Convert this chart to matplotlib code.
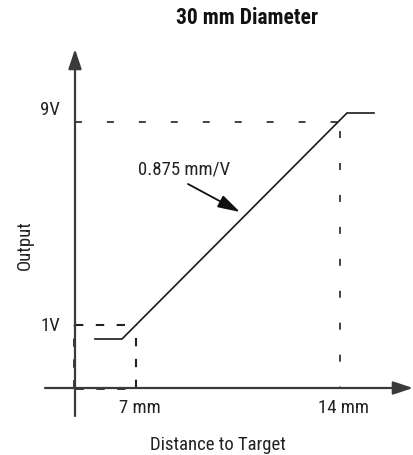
import numpy as np
import matplotlib
matplotlib.use("Agg")
from matplotlib import pyplot as plt

plt.rcParams['lines.scale_dashes'] = False
FONT = ['Roboto Condensed', 'Liberation Sans Narrow', 'Open Sans Condensed', 'DejaVu Sans']
STRETCH = 'condensed'

# schematic values (origin at axes crossing, units are drawing units)
x_ticks = [61, 265]
x_labels = ['7 mm', '14 mm']
y_ticks = [63, 266]
y_labels = ['1V', '9V']
line_x = [20, 47, 272, 299]
line_y = [49, 49, 275, 275]
slope_text = '0.875 mm/V'

fig = plt.figure(figsize=(4.13, 4.56), dpi=100)
ax = fig.add_axes([0, 0, 1, 1])
ax.set_xlim(-75, 338)
ax.set_ylim(-67, 389)
ax.axis('off')

axcol = '#3a3a3a'
head = '-|>,head_width=0.2,head_length=0.6'
# axes with arrows
ax.annotate('', xy=(338, 0), xytext=(-30, 0),
            arrowprops=dict(arrowstyle=head, color=axcol, lw=1.6,
                            mutation_scale=20, shrinkA=0, shrinkB=0))
ax.annotate('', xy=(0, 339), xytext=(0, -28),
            arrowprops=dict(arrowstyle=head, color=axcol, lw=1.6,
                            mutation_scale=20, shrinkA=0, shrinkB=0))

# long dashed guides
long_dash = (0, (5, 18))
ax.plot([0, x_ticks[1]], [y_ticks[1], y_ticks[1]], color='#222', lw=1.2, linestyle=long_dash)
ax.plot([x_ticks[1], x_ticks[1]], [0, y_ticks[1]], color='#222', lw=1.2, linestyle=(4, (5, 18)))

# short dashed box around the 1V / 7 mm point
short_dash = (0, (6, 9))
ax.plot([0, x_ticks[0]], [y_ticks[0], y_ticks[0]], color='#222', lw=1.5, linestyle=short_dash)
ax.plot([x_ticks[0], x_ticks[0]], [0, y_ticks[0]], color='#222', lw=1.5, linestyle=short_dash)
ax.plot([-1, -1], [0, y_ticks[0]], color='#222', lw=2.0, linestyle=short_dash)
ax.plot([0, x_ticks[0]], [0, 0], color='#222', lw=2.0, linestyle=short_dash)

# output curve
ax.plot(line_x, line_y, color='#1a1a1a', lw=1.2, solid_joinstyle='miter')

txt = dict(family=FONT, fontstretch=STRETCH, color='#222', fontsize=13.5)
# tick labels
for xv, lab in zip(x_ticks, x_labels):
    ax.text(xv + 4, -19, lab, ha='center', va='center', **txt)
ax.text(-15, y_ticks[0], y_labels[0], ha='right', va='center', **txt)
ax.text(-15, y_ticks[1] + 13, y_labels[1], ha='right', va='center', **txt)

# slope annotation
ax.text(109, 219, slope_text, ha='center', va='center', **txt)
ax.annotate('', xy=(165, 176), xytext=(113, 204),
            arrowprops=dict(arrowstyle='-|>,head_width=0.22,head_length=0.75', color='#111', lw=1.3,
                            mutation_scale=18, shrinkA=0, shrinkB=0))

# axis titles
ax.text(143, -56, 'Distance to Target', ha='center', va='center', **txt)
ax.text(-50, 144, 'Output', ha='center', va='center', rotation=90, **txt)
ax.text(172, 371, '30 mm Diameter', ha='center', va='center', fontsize=15.5, fontweight='bold',
        family=FONT, fontstretch=STRETCH, color='#111')

fig.savefig('out.png', dpi=100)
